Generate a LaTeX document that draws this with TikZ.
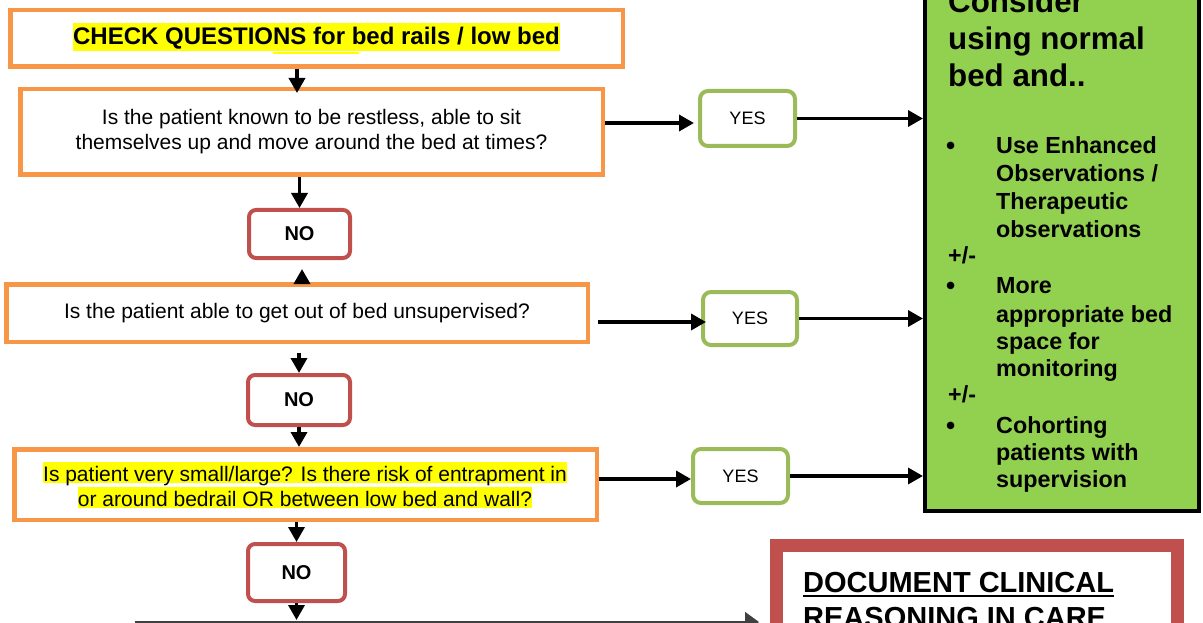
\documentclass[tikz,border=0pt]{standalone}
\usepackage{fontspec}
\setmainfont{Liberation Sans}
\usetikzlibrary{arrows.meta}
\definecolor{boxorange}{HTML}{F79646}
\definecolor{boxred}{HTML}{C0504D}
\definecolor{boxgreen}{HTML}{9BBB59}
\definecolor{panelgreen}{HTML}{92D050}
\definecolor{hilite}{HTML}{FFFF00}
\definecolor{rulegray}{HTML}{404040}
\begin{document}
\begin{tikzpicture}[x=1pt,y=-1pt,
  question/.style={draw=boxorange, line width=4.5pt, fill=white, inner sep=0pt,
    align=center, font=\fontsize{21}{25}\selectfont},
  nobox/.style={draw=boxred, line width=4pt, rounded corners=7pt, fill=white,
    inner sep=0pt, font=\fontsize{20}{24}\selectfont\bfseries},
  yesbox/.style={draw=boxgreen, line width=4pt, rounded corners=8pt, fill=white,
    inner sep=0pt, font=\fontsize{18}{22}\selectfont},
  arr/.style={line width=3.5pt, -{Triangle[length=15pt,width=16pt]}},
  panelline/.style={anchor=base west, inner sep=0pt, font=\fontsize{23.3}{27.5}\selectfont\bfseries},
  bulletmark/.style={anchor=base west, inner sep=0pt, font=\fontsize{26}{27.5}\selectfont\bfseries},
  panelhead/.style={anchor=base west, inner sep=0pt, font=\fontsize{31.3}{37}\selectfont\bfseries},
  hl/.style={fill=hilite, inner sep=0pt, anchor=base, text height=19pt, text depth=2pt,
    font=\fontsize{21}{25}\selectfont},
  doctext/.style={anchor=base west, inner sep=0pt, font=\fontsize{29}{35}\selectfont\bfseries},
]
\useasboundingbox (0,0) rectangle (1203,623);

% --- question column ---
\node[question, minimum width=612.5pt, minimum height=56.5pt] (title) at (316.5,38.5) {};
\node[fill=hilite, inner sep=0pt, text height=22pt, text depth=6pt, anchor=base,
  font=\fontsize{24}{28}\selectfont\bfseries] (titletext) at (316.5,45)
  {CHECK QUESTIONS for bed rails / low bed};
\draw[hilite, line width=1.5pt] (273,53) -- (359,53);

\node[question, minimum width=582.5pt, minimum height=85.5pt] (q1) at (311.5,132)
  {Is the patient known to be restless, able to sit\\themselves up and move around the bed at times?};
\node[nobox, minimum width=101pt, minimum height=48pt] (no1) at (299.5,234) {NO};

\node[question, minimum width=581.5pt, minimum height=57.5pt] (q2) at (297,313)
  {Is the patient able to get out of bed unsupervised?};
\node[nobox, minimum width=102pt, minimum height=50pt] (no2) at (299,400) {NO};

\node[question, minimum width=582.5pt, minimum height=70.5pt] (q3) at (305.5,484.5) {};
\node[hl] (q3a) at (305,481) {Is patient very small/large? Is there risk of entrapment in};
\node[hl] (q3b) at (305,506) {or around bedrail OR between low bed and wall?};
\node[nobox, minimum width=97pt, minimum height=57pt] (no3) at (296.5,572.5) {NO};

% --- YES column ---
\node[yesbox, minimum width=95pt, minimum height=55pt] (yes1) at (747.5,118.5) {YES};
\node[yesbox, minimum width=94pt, minimum height=53pt] (yes2) at (750,318.5) {YES};
\node[yesbox, minimum width=95pt, minimum height=54pt] (yes3) at (740.5,476) {YES};

% --- recommendation panel ---
\node[draw=black, line width=4pt, fill=panelgreen, inner sep=0pt,
  minimum width=274pt, minimum height=591pt] (panel) at (1062,215.5) {};
\node[panelhead] (h1) at (948,13) {Consider};
\node[panelhead] (h2) at (948,50) {using normal};
\node[panelhead] (h3) at (948,87) {bed and..};

\node[bulletmark] (b1) at (946,155) {\textbullet};
\node[panelline] (i1) at (996,154) {Use Enhanced};
\node[panelline] (i2) at (996,182) {Observations /};
\node[panelline] (i3) at (996,209) {Therapeutic};
\node[panelline] (i4) at (996,237) {observations};
\node[panelline] (pm1) at (948,263) {+/-};
\node[bulletmark] (b2) at (946,294) {\textbullet};
\node[panelline] (i5) at (996,293) {More};
\node[panelline] (i6) at (996,322) {appropriate bed};
\node[panelline] (i7) at (996,349) {space for};
\node[panelline] (i8) at (996,376) {monitoring};
\node[panelline] (pm2) at (948,402) {+/-};
\node[bulletmark] (b3) at (946,434) {\textbullet};
\node[panelline] (i9) at (996,433) {Cohorting};
\node[panelline] (i10) at (996,460) {patients with};
\node[panelline] (i11) at (996,487) {supervision};

% --- documentation box ---
\node[draw=boxred, line width=13pt, fill=white, inner sep=0pt,
  minimum width=401pt, minimum height=154.5pt] (doc) at (977,622.75) {};
\node[doctext] (d1) at (803,592) {DOCUMENT CLINICAL};
\node[doctext] (d2) at (803,627) {REASONING IN CARE};
\draw[line width=2.5pt] ([yshift=-4pt]d1.base west) -- ([yshift=-4pt]d1.base east);
\draw[line width=2.5pt] ([yshift=-4pt]d2.base west) -- ([yshift=-4pt]d2.base east);

% --- vertical connectors ---
\draw[arr, shorten >=-6pt] ([xshift=-19.5pt]title.south) -- ([xshift=-19.5pt]title.south |- q1.north);
\draw[arr] (q1.south -| no1.north) -- (no1.north);
\draw[arr] ([xshift=5pt]q2.north) -- ([xshift=5pt,yshift=13pt]q2.north);
\draw[arr, shorten <=9pt] (q2.south -| no2.north) -- (no2.north);
\draw[arr] (no2.south) -- (no2.south |- q3.north);
\draw[arr] (q3.south -| no3.north) -- (no3.north);
\coordinate (bl) at (135,622);
\draw[arr, shorten >=2pt] (no3.south) -- (no3.south |- bl);
\draw[line width=1.5pt, rulegray, -{Triangle[length=14pt,width=20pt]}, shorten >=11pt]
  (bl) -- (bl -| doc.west);

% --- horizontal connectors ---
\draw[arr, shorten >=4pt] ([yshift=9pt]q1.east) -- ([yshift=9pt]q1.east -| yes1.west);
\draw[arr] (yes1.east) -- (yes1.east -| panel.west);
\draw[arr, shorten >=3pt] ([xshift=8pt,yshift=-9pt]q2.east) -- ([xshift=8pt,yshift=-9pt]q2.east -| yes2.west);
\draw[arr] (yes2.east) -- (yes2.east -| panel.west);
\draw[arr] ([yshift=5.5pt]q3.east) -- ([yshift=5.5pt]q3.east -| yes3.west);
\draw[arr] (yes3.east) -- (yes3.east -| panel.west);
\end{tikzpicture}
\end{document}
